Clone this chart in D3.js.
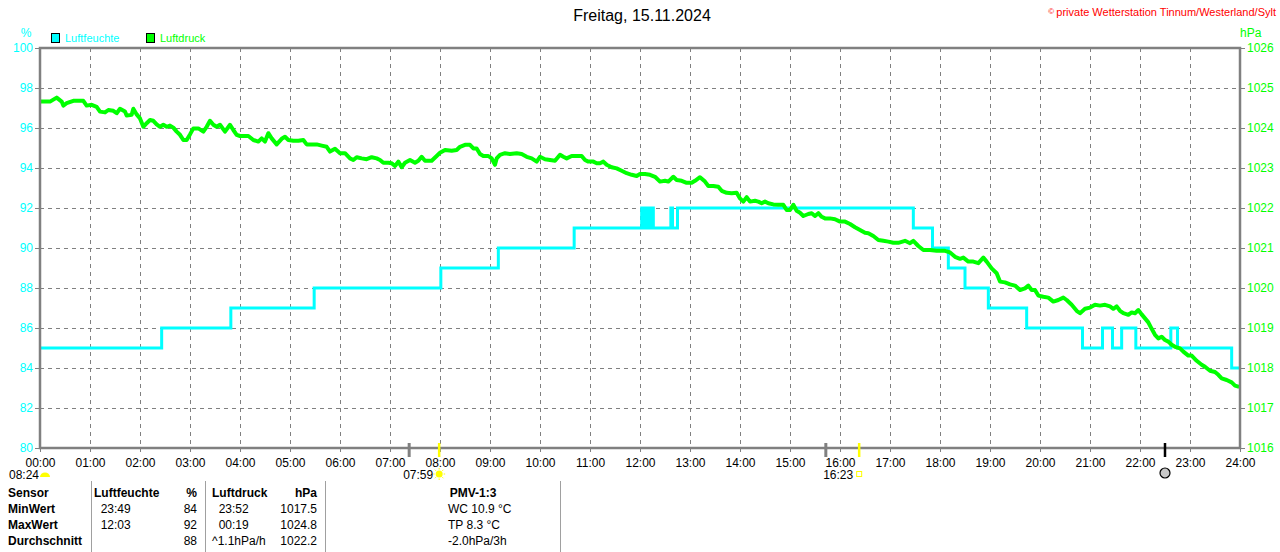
<!DOCTYPE html>
<html>
<head>
<meta charset="utf-8">
<script src="https://cdn.jsdelivr.net/npm/d3@7"></script>
<style>
body { margin: 0; background: #fff; }
text { font-family: "Liberation Sans", Arial, sans-serif; }
</style>
</head>
<body>
<div id="Chart"></div>
<script>
var w = 1280;
var h = 552;

// Luftfeuchte (%) - step changes, minutes since midnight
var humTime = [0, 146, 229, 329, 481, 550, 641, 722, 724, 726, 728, 730, 732, 734, 736, 757, 759, 765,
    1048, 1071, 1090, 1110, 1138, 1184, 1251, 1275, 1287, 1298, 1315, 1357, 1365, 1430];
var humVal = [85, 86, 87, 88, 89, 90, 91, 92, 91, 92, 91, 92, 91, 92, 91, 92, 91, 92,
    91, 90, 89, 88, 87, 86, 85, 86, 85, 86, 85, 86, 85, 84];

// Luftdruck (hPa), minutes since midnight
var presTime = [
    0, 12, 20, 26, 28, 32, 40, 52, 56, 62, 68, 72, 78, 82, 88, 92, 96, 102, 104, 110, 112, 116, 120, 124, 128, 132, 136, 140, 144, 148,
    152, 156, 160, 164, 168, 172, 176, 180, 184, 190, 196, 200, 204, 208, 212, 216, 222, 228, 232, 236, 240, 250, 256, 262, 266, 270,
    274, 278, 284, 290, 294, 298, 304, 310, 316, 320, 332, 338, 344, 348, 354, 360, 366,
    372, 376, 380, 386, 392, 398, 404, 408, 412, 418, 422, 426, 430, 434, 438, 444, 450, 454, 458, 462, 470, 476, 480, 486, 494, 500,
    504, 510, 516, 520, 524, 528, 532, 538, 542, 546, 548, 552, 558, 564, 572, 578, 584, 590, 596, 600, 606, 612, 618, 624, 628, 632,
    638, 644, 650, 654, 658, 664, 668, 672, 676, 680, 686, 692, 698, 704, 710, 716,
    720, 726, 732, 738, 744, 750, 754, 760, 764, 770, 776, 782, 786, 792, 798, 802, 808, 814, 818, 824, 830, 836, 840, 844, 848, 852,
    858, 862, 866, 870, 874, 880, 886, 892, 896, 900, 904, 908, 912, 916, 922, 926, 930, 934, 938, 942, 948, 954, 960, 966, 972, 978,
    984, 990, 994, 1000, 1006, 1012, 1018, 1024, 1030, 1038, 1044, 1048, 1054, 1060, 1066,
    1068, 1076, 1086, 1092, 1098, 1104, 1108, 1114, 1120, 1126, 1132, 1136, 1142, 1148, 1152, 1158, 1164, 1170, 1176, 1182, 1186, 1190,
    1194, 1198, 1204, 1210, 1216, 1222, 1228, 1232, 1238, 1244, 1248, 1254, 1260, 1266, 1272, 1278, 1284, 1288, 1292, 1296, 1300, 1306,
    1310, 1314, 1318, 1322, 1326, 1330, 1334, 1338, 1342, 1346, 1350, 1354, 1358, 1362, 1368, 1372, 1378, 1382, 1388, 1394, 1398, 1404,
    1410, 1414, 1418, 1424, 1430, 1434, 1439];
var presVal = [
    1024.66, 1024.66, 1024.76, 1024.66, 1024.56, 1024.62, 1024.68, 1024.68, 1024.56, 1024.58, 1024.53, 1024.41, 1024.39, 1024.45, 1024.43, 1024.37, 1024.48, 1024.41, 1024.31, 1024.33, 1024.48, 1024.34, 1024.24, 1024.03, 1024.12, 1024.2, 1024.18, 1024.09, 1024.03, 1024.08,
    1024.03, 1024.06, 1024.01, 1023.91, 1023.83, 1023.7, 1023.7, 1023.84, 1023.99, 1023.99, 1023.91, 1024.03, 1024.18, 1024.08, 1024.03, 1024.08, 1023.91, 1024.08, 1023.95, 1023.83, 1023.8, 1023.8, 1023.7, 1023.66, 1023.74, 1023.66,
    1023.87, 1023.74, 1023.59, 1023.73, 1023.78, 1023.7, 1023.68, 1023.68, 1023.7, 1023.59, 1023.59, 1023.56, 1023.53, 1023.41, 1023.48, 1023.37, 1023.37,
    1023.24, 1023.2, 1023.27, 1023.24, 1023.22, 1023.27, 1023.24, 1023.2, 1023.13, 1023.13, 1023.12, 1023.05, 1023.16, 1023.02, 1023.13, 1023.2, 1023.13, 1023.18, 1023.28, 1023.18, 1023.18, 1023.3, 1023.38, 1023.45, 1023.43, 1023.45,
    1023.53, 1023.58, 1023.58, 1023.49, 1023.49, 1023.35, 1023.3, 1023.3, 1023.24, 1023.08, 1023.24, 1023.33, 1023.37, 1023.35, 1023.37, 1023.35, 1023.28, 1023.24, 1023.16, 1023.28, 1023.22, 1023.2, 1023.18, 1023.33, 1023.28, 1023.24,
    1023.3, 1023.3, 1023.3, 1023.2, 1023.16, 1023.16, 1023.12, 1023.12, 1023.16, 1023.08, 1023.02, 1022.99, 1022.93, 1022.87, 1022.83, 1022.8,
    1022.85, 1022.85, 1022.83, 1022.78, 1022.66, 1022.68, 1022.66, 1022.78, 1022.7, 1022.68, 1022.63, 1022.63, 1022.68, 1022.77, 1022.66, 1022.55, 1022.55, 1022.53, 1022.43, 1022.38, 1022.37, 1022.38, 1022.24, 1022.16, 1022.27, 1022.16,
    1022.18, 1022.16, 1022.12, 1022.16, 1022.12, 1022.09, 1022.08, 1022.08, 1021.95, 1021.95, 1022.08, 1021.93, 1021.88, 1021.8, 1021.85, 1021.87, 1021.8, 1021.87, 1021.78, 1021.74, 1021.74, 1021.72, 1021.66, 1021.66, 1021.6, 1021.52,
    1021.45, 1021.38, 1021.37, 1021.3, 1021.2, 1021.18, 1021.16, 1021.13, 1021.13, 1021.18, 1021.12, 1021.18, 1021.05, 1020.95, 1020.95,
    1020.95, 1020.93, 1020.93, 1020.89, 1020.78, 1020.73, 1020.76, 1020.66, 1020.66, 1020.62, 1020.76, 1020.66, 1020.49, 1020.37, 1020.16, 1020.14, 1020.09, 1020.06, 1019.95, 1019.99, 1020.06, 1019.95,
    1019.95, 1019.81, 1019.78, 1019.76, 1019.66, 1019.7, 1019.76, 1019.7, 1019.58, 1019.43, 1019.37, 1019.48, 1019.51, 1019.58, 1019.56, 1019.58, 1019.54, 1019.48, 1019.54, 1019.43, 1019.37, 1019.33,
    1019.39, 1019.37, 1019.45, 1019.34, 1019.24, 1019.14, 1018.98, 1018.83, 1018.74, 1018.78, 1018.7, 1018.66, 1018.58, 1018.53, 1018.49, 1018.41, 1018.31, 1018.31, 1018.18, 1018.08, 1018.03, 1017.93,
    1017.9, 1017.83, 1017.74, 1017.7, 1017.64, 1017.56, 1017.53];

var humTicks = [80, 82, 84, 86, 88, 90, 92, 94, 96, 98, 100];
var presTicks = [1016, 1017, 1018, 1019, 1020, 1021, 1022, 1023, 1024, 1025, 1026];
var hourTicks = d3.range(0, 25).map(function(d) { return d * 60; });

// Daemmerung / Sonne / Mond markers on the time axis
var twilightTimes = ["07:23", "15:43"];
var sunTimes = ["07:59", "16:23"];
var moonTime = "22:30";
var moonLeftLabel = "08:24";

// Tabelle
var rowLabels = ["Sensor", "MinWert", "MaxWert", "Durchschnitt"];
var humCol = ["Luftfeuchte", "  23:49", "  12:03", ""];
var humColVal = ["%", "84", "92", "88"];
var presCol = ["Luftdruck", "  23:52", "  00:19", "^1.1hPa/h"];
var presColVal = ["hPa", "1017.5", "1024.8", "1022.2"];
var pmvCol = ["PMV-1:3", "WC 10.9 \u00B0C", "TP 8.3 \u00B0C", "-2.0hPa/3h"];

function toMin(s) {
    var p = s.split(":");
    return (+p[0]) * 60 + (+p[1]);
}
function pad(n) { return (n < 10 ? "0" : "") + n; }

var cyan = "#00ffff";
var green = "#00ff00";
var gray = "#808080";

var svg = d3.select("#Chart").append("svg")
    .attr("width", w)
    .attr("height", h);

var x = d3.scaleLinear().domain([0, 1440]).range([40, 1240]);
var yH = d3.scaleLinear().domain([80, 100]).range([448, 48]);
var yP = d3.scaleLinear().domain([1016, 1026]).range([448, 48]);

// grid
var grid = svg.append("g").attr("class", "grid");
grid.selectAll("line.v")
    .data(hourTicks.slice(1, -1))
    .enter()
    .append("line")
    .attr("x1", function(d) { return x(d) + 0.5; })
    .attr("x2", function(d) { return x(d) + 0.5; })
    .attr("y1", yH(100))
    .attr("y2", yH(80))
    .attr("stroke", gray)
    .attr("stroke-dasharray", "4,4");
grid.selectAll("line.h")
    .data(humTicks.slice(1, -1))
    .enter()
    .append("line")
    .attr("x1", x(0))
    .attr("x2", x(1440))
    .attr("y1", function(d) { return yH(d) + 0.5; })
    .attr("y2", function(d) { return yH(d) + 0.5; })
    .attr("stroke", gray)
    .attr("stroke-dasharray", "4,4");

// humidity
var humData = humTime.map(function(t, i) { return [t, humVal[i]]; });
humData.push([1440, humVal[humVal.length - 1]]);
svg.append("path")
    .datum(humData)
    .attr("fill", "none")
    .attr("stroke", cyan)
    .attr("stroke-width", 3)
    .attr("d", d3.line()
        .x(function(d) { return x(d[0]); })
        .y(function(d) { return yH(d[1]); })
        .curve(d3.curveStepAfter));

// pressure
var presData = presTime.map(function(t, i) { return [t, presVal[i]]; });
svg.append("path")
    .datum(presData)
    .attr("fill", "none")
    .attr("stroke", green)
    .attr("stroke-width", 4)
    .attr("stroke-linejoin", "round")
    .attr("d", d3.line()
        .x(function(d) { return x(d[0]); })
        .y(function(d) { return yP(d[1]); }));

// frame
svg.append("rect")
    .attr("x", x(0))
    .attr("y", yH(100))
    .attr("width", x(1440) - x(0))
    .attr("height", yH(80) - yH(100))
    .attr("fill", "none")
    .attr("stroke", gray)
    .attr("stroke-width", 2.5);

// axes
function styleAxis(g, color) {
    g.select(".domain").remove();
    g.selectAll(".tick line").attr("stroke", gray);
    g.selectAll(".tick text")
        .attr("fill", color)
        .style("font-size", "12px")
        .style("font-family", "'Liberation Sans', Arial, sans-serif");
}

svg.append("g")
    .attr("transform", "translate(" + x(0) + ",0)")
    .call(d3.axisLeft(yH).tickValues(humTicks).tickSize(5).tickPadding(2))
    .call(styleAxis, cyan);

svg.append("g")
    .attr("transform", "translate(" + x(1440) + ",0)")
    .call(d3.axisRight(yP).tickValues(presTicks).tickSize(5).tickPadding(2).tickFormat(d3.format("d")))
    .call(styleAxis, green);

svg.append("g")
    .attr("transform", "translate(0," + yH(80) + ")")
    .call(d3.axisBottom(x).tickValues(hourTicks).tickSize(4).tickPadding(6)
        .tickFormat(function(d) { return pad(Math.floor(d / 60)) + ":" + pad(d % 60); }))
    .call(styleAxis, "#000");

// axis units and legend
svg.append("text").attr("x", 26).attr("y", 37).attr("text-anchor", "middle")
    .attr("fill", cyan).style("font-size", "12px").text("%");
svg.append("text").attr("x", 1240).attr("y", 37)
    .attr("fill", green).style("font-size", "12px").text("hPa");

var legend = [["Luftfeuchte", cyan, 51], ["Luftdruck", green, 146]];
legend.forEach(function(l) {
    svg.append("rect").attr("x", l[2] + 0.5).attr("y", 33.5).attr("width", 8).attr("height", 9)
        .attr("fill", l[1]).attr("stroke", "#000");
    svg.append("text").attr("x", l[2] + 14).attr("y", 42)
        .attr("fill", l[1]).style("font-size", "11px").text(l[0]);
});

// title
svg.append("text").attr("x", 642).attr("y", 21).attr("text-anchor", "middle")
    .style("font-size", "16px").attr("fill", "#000").text("Freitag, 15.11.2024");

var copy = svg.append("text").attr("x", 1276).attr("y", 16).attr("text-anchor", "end")
    .attr("fill", "#ff0000").style("font-size", "11px");
copy.append("tspan").style("font-size", "8px").attr("dy", -2).text("\u00A9 ");
copy.append("tspan").attr("dy", 2).text("private Wetterstation Tinnum/Westerland/Sylt");

// markers on time axis
svg.selectAll("line.tw")
    .data(twilightTimes)
    .enter()
    .append("line")
    .attr("x1", function(d) { return x(toMin(d)); })
    .attr("x2", function(d) { return x(toMin(d)); })
    .attr("y1", 443).attr("y2", 457)
    .attr("stroke", gray).attr("stroke-width", 3);

svg.selectAll("line.sun")
    .data(sunTimes)
    .enter()
    .append("line")
    .attr("x1", function(d) { return x(toMin(d)); })
    .attr("x2", function(d) { return x(toMin(d)); })
    .attr("y1", 443).attr("y2", 457)
    .attr("stroke", "#ffff00").attr("stroke-width", 2.5);

svg.append("line")
    .attr("x1", x(toMin(moonTime))).attr("x2", x(toMin(moonTime)))
    .attr("y1", 443).attr("y2", 457)
    .attr("stroke", "#000").attr("stroke-width", 2.5);

svg.selectAll("text.sunlbl")
    .data(sunTimes)
    .enter()
    .append("text")
    .attr("x", function(d) { return x(toMin(d)) - 6; })
    .attr("y", 479)
    .attr("text-anchor", "end")
    .style("font-size", "12px")
    .text(function(d) { return d; });

// sunrise icon
var sr = x(toMin(sunTimes[0]));
svg.append("circle").attr("cx", sr).attr("cy", 474).attr("r", 3.5).attr("fill", "#ffff00");
d3.range(0, 8).forEach(function(k) {
    var a = k * Math.PI / 4;
    svg.append("line")
        .attr("x1", sr + Math.cos(a) * 4.5).attr("y1", 474 + Math.sin(a) * 4.5)
        .attr("x2", sr + Math.cos(a) * 6).attr("y2", 474 + Math.sin(a) * 6)
        .attr("stroke", "#ffff00").attr("stroke-width", 1);
});
// sunset icon
var ss = x(toMin(sunTimes[1]));
svg.append("rect").attr("x", ss - 2.5).attr("y", 471.5).attr("width", 5).attr("height", 5)
    .attr("fill", "none").attr("stroke", "#ffff00");

// moon icon
svg.append("circle").attr("cx", x(toMin(moonTime))).attr("cy", 473).attr("r", 5)
    .attr("fill", "#c8c8c8").attr("stroke", "#000").attr("stroke-width", 1.2);

// left label with yellow dome
svg.append("text").attr("x", 9).attr("y", 479).style("font-size", "12px").text(moonLeftLabel);
svg.append("path")
    .attr("d", "M40,477 A5,4.5 0 0 1 50,477 Z")
    .attr("fill", "#ffff00");

// table
var table = svg.append("g").attr("class", "table");
[91, 205, 325, 560].forEach(function(sx) {
    table.append("line").attr("x1", sx + 0.5).attr("x2", sx + 0.5).attr("y1", 481).attr("y2", 552)
        .attr("stroke", "#a0a0a0");
});

function column(arr, xpos, anchor) {
    table.selectAll(null)
        .data(arr)
        .enter()
        .append("text")
        .attr("x", xpos)
        .attr("y", function(d, i) { return 497 + i * 16; })
        .attr("text-anchor", anchor)
        .attr("xml:space", "preserve")
        .style("font-size", "12px")
        .style("font-weight", function(d, i) { return i === 0 ? "bold" : "normal"; })
        .text(function(d) { return d; });
}

table.selectAll(null)
    .data(rowLabels)
    .enter()
    .append("text")
    .attr("x", 8)
    .attr("y", function(d, i) { return 497 + i * 16; })
    .style("font-size", "12px")
    .style("font-weight", "bold")
    .text(function(d) { return d; });

column(humCol, 94, "start");
column(humColVal, 197, "end");
column(presCol, 212, "start");
column(presColVal, 317, "end");

table.selectAll(null)
    .data(pmvCol)
    .enter()
    .append("text")
    .attr("x", function(d, i) { return i === 0 ? 473 : 448; })
    .attr("y", function(d, i) { return 497 + i * 16; })
    .attr("text-anchor", function(d, i) { return i === 0 ? "middle" : "start"; })
    .style("font-size", "12px")
    .style("font-weight", function(d, i) { return i === 0 ? "bold" : "normal"; })
    .text(function(d) { return d; });
</script>
</body>
</html>
